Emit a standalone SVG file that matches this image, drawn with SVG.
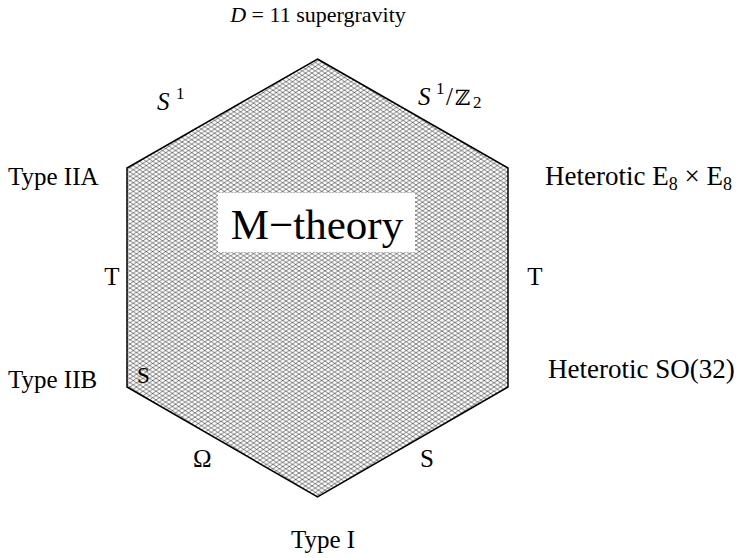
<svg xmlns="http://www.w3.org/2000/svg" width="737" height="558" viewBox="0 0 737 558">
<defs>
  <pattern id="hatch" width="6.5" height="4.3" patternUnits="userSpaceOnUse">
    <rect width="6.5" height="4.3" fill="#fff"/>
    <path d="M0,0 L6.5,4.3 M0,4.3 L6.5,0" stroke="#111" stroke-width="0.55" fill="none"/>
  </pattern>
</defs>
<rect width="737" height="558" fill="#fff"/>
<g id="m-theory">
  <polygon points="317.5,59 508,168 508,387 317.5,497 127,387 127,168" fill="url(#hatch)" stroke="#000" stroke-width="1.5"/>
  <rect x="218" y="193" width="197" height="59" fill="#fff"/>
  <text x="317" y="239" font-size="43" font-family="Liberation Serif, serif" text-anchor="middle">M−theory</text>
</g>
<g id="connectors">
  <text font-family="Liberation Serif, serif" font-size="25" font-style="italic" x="157" y="110">S</text>
  <text font-family="Liberation Serif, serif" font-size="17" x="176" y="99">1</text>
  <text font-family="Liberation Serif, serif" font-size="25" font-style="italic" x="418" y="105">S</text>
  <text font-family="Liberation Serif, serif" font-size="17" x="436" y="94">1</text>
  <text font-family="Liberation Serif, serif" font-size="25" x="446" y="105">/</text>
  <text font-family="DejaVu Serif, serif" font-size="21" x="455" y="105">ℤ</text>
  <text font-family="Liberation Serif, serif" font-size="17" x="473" y="108">2</text>
  <text font-family="Liberation Serif, serif" font-size="25" x="112" y="285" text-anchor="middle">T</text>
  <text font-family="Liberation Serif, serif" font-size="25" x="535" y="285" text-anchor="middle">T</text>
  <text font-family="Liberation Serif, serif" font-size="23" x="137" y="383">S</text>
  <text font-family="Liberation Serif, serif" font-size="25" x="193" y="467">Ω</text>
  <text font-family="Liberation Serif, serif" font-size="25" x="420" y="467">S</text>
</g>
<g id="sugra"><text font-family="Liberation Serif, serif" font-size="22" x="318" y="22" text-anchor="middle"><tspan font-style="italic">D</tspan> = 11 supergravity</text></g>
<g id="iia"><text font-family="Liberation Serif, serif" font-size="25" x="8" y="185">Type IIA</text></g>
<g id="iib"><text font-family="Liberation Serif, serif" font-size="25" x="8" y="388">Type IIB</text></g>
<g id="e8"><text font-family="Liberation Serif, serif" font-size="27" x="545" y="185">Heterotic E<tspan font-size="18" dy="5">8</tspan><tspan dy="-5"> × E</tspan><tspan font-size="18" dy="5">8</tspan></text></g>
<g id="so32"><text font-family="Liberation Serif, serif" font-size="27" x="548" y="378">Heterotic SO(32)</text></g>
<g id="typei"><text font-family="Liberation Serif, serif" font-size="25" x="323" y="548" text-anchor="middle">Type I</text></g>
</svg>
